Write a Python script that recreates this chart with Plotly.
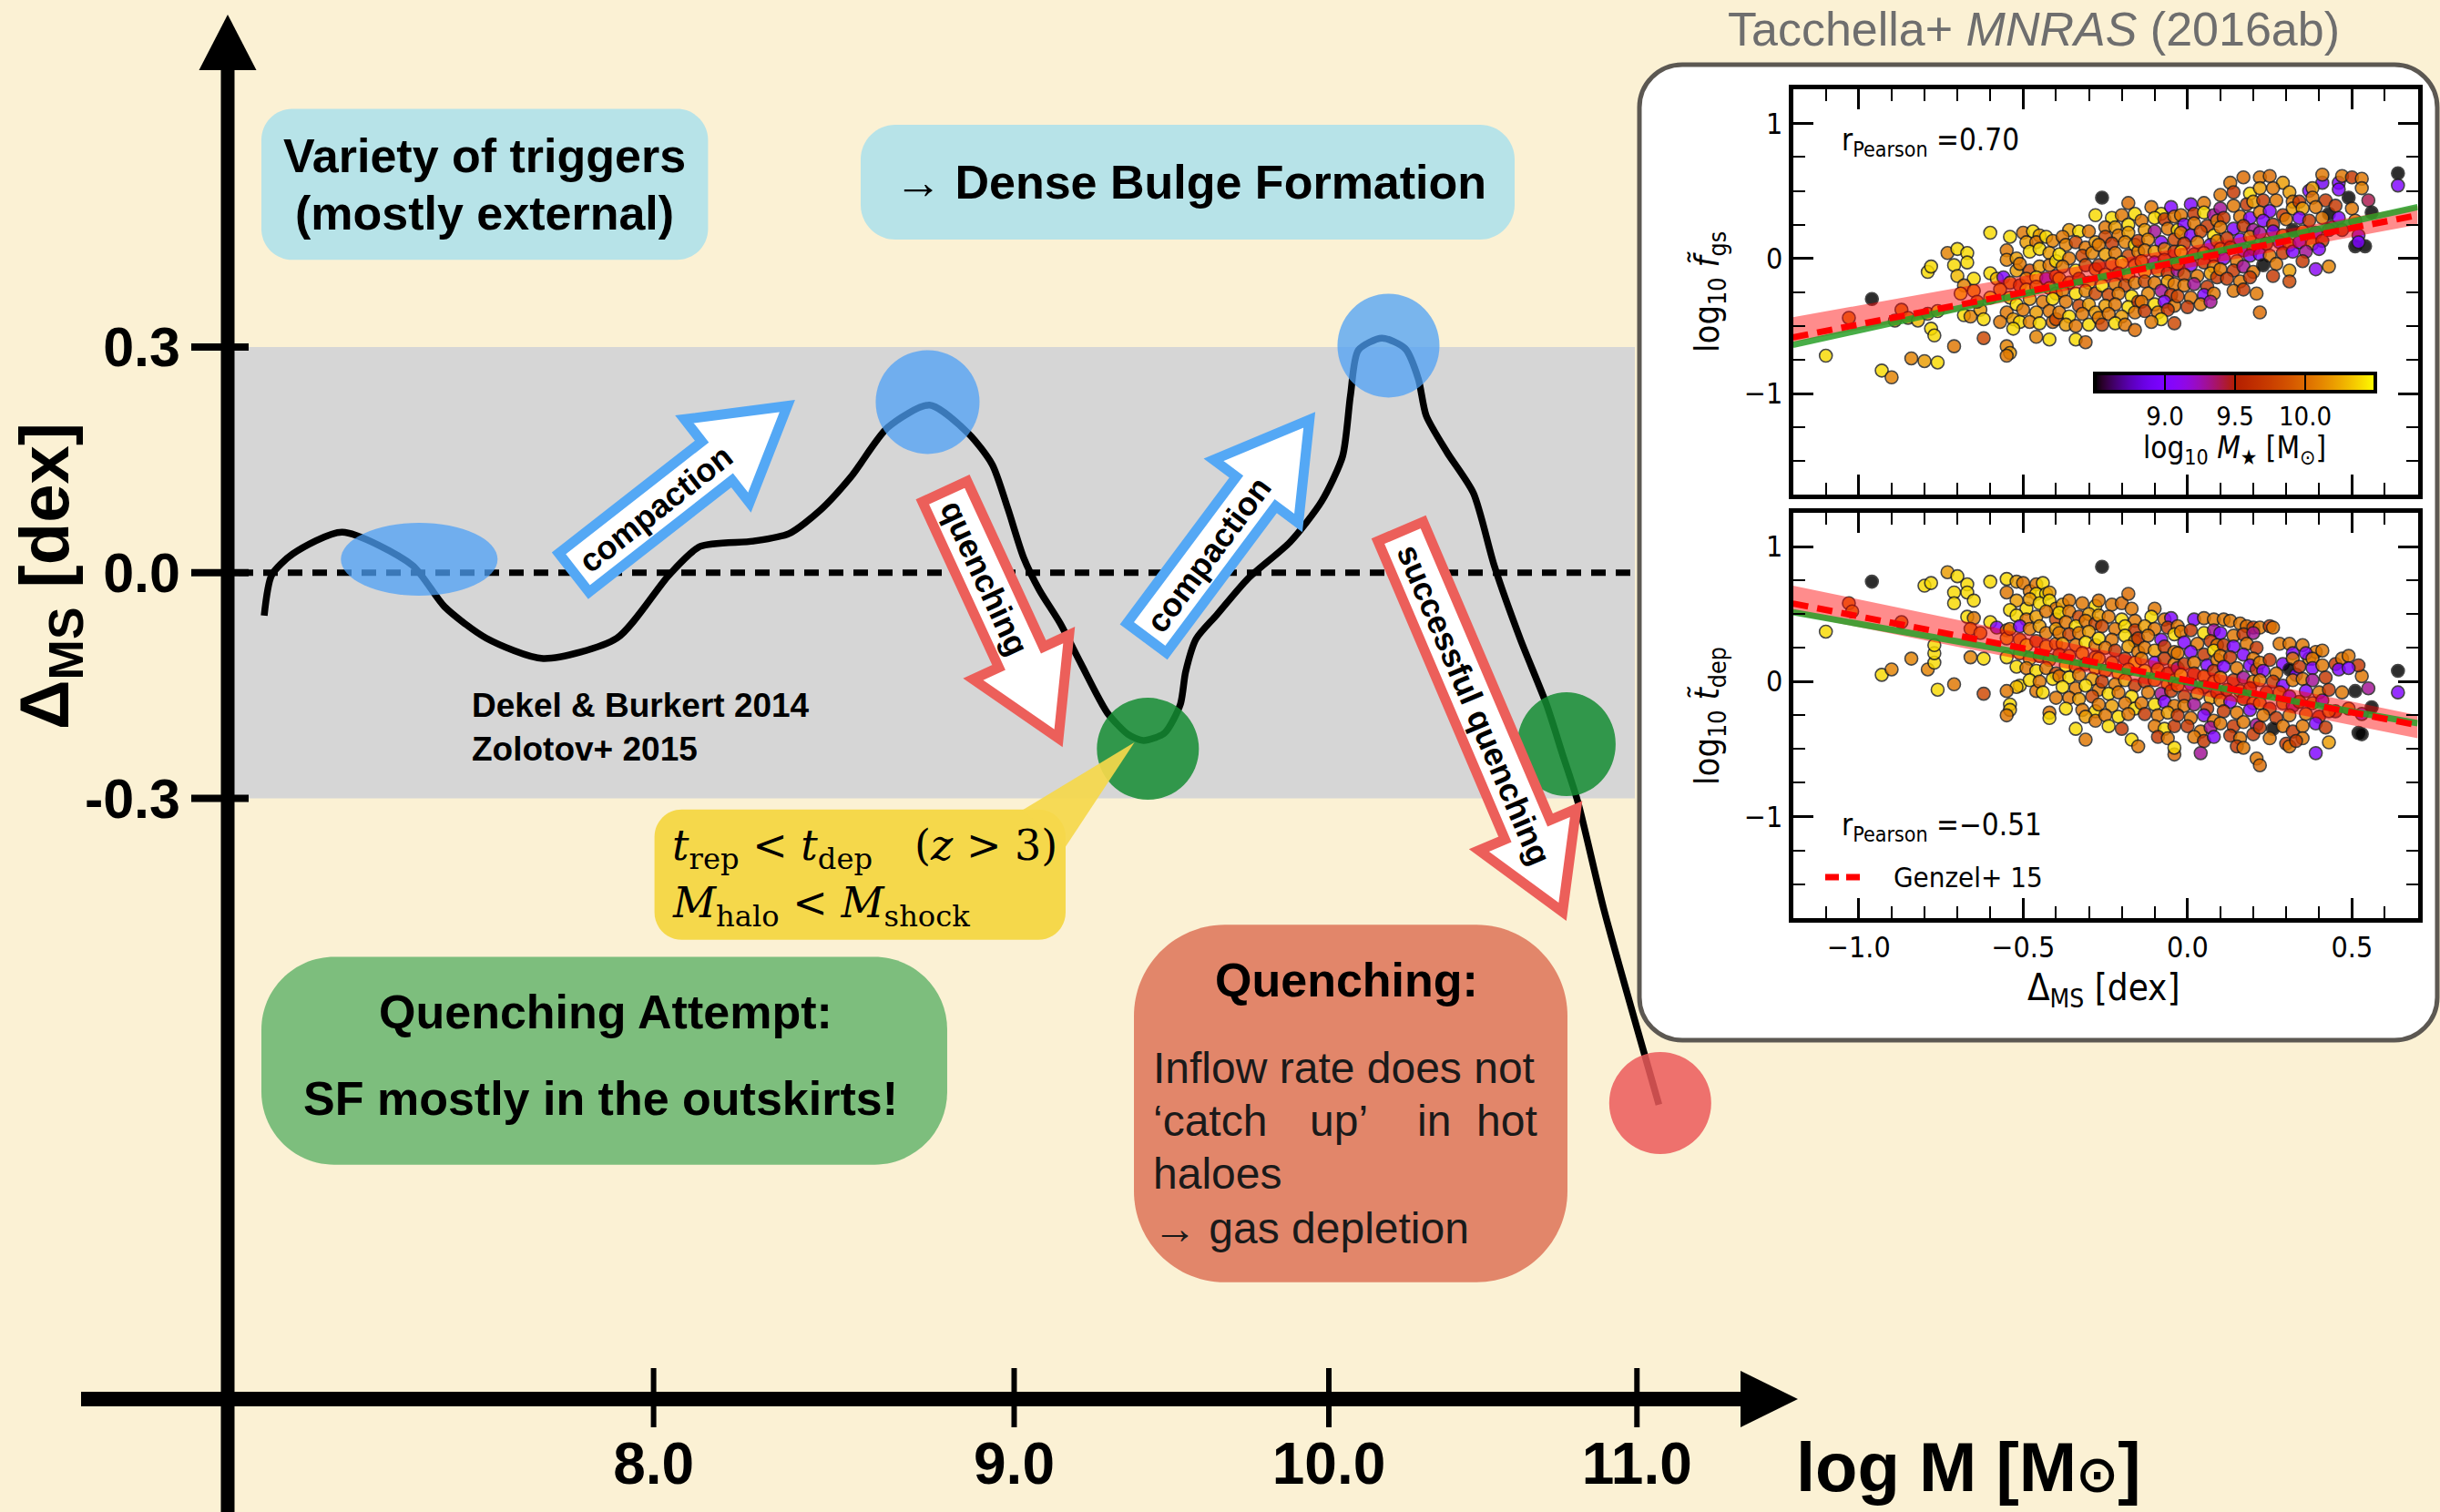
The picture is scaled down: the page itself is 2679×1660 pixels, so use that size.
import math
import plotly.graph_objects as go

W, H = 2679, 1660
BG = "#fbf1d4"
SANS = "Liberation Sans, Arial, Helvetica, sans-serif"
SERIF = "DejaVu Serif, Liberation Serif, serif"
MPL = "DejaVu Sans Condensed, DejaVu Sans, sans-serif"

# ---------------- main schematic: log M (x) vs Delta_MS (y) ----------------
X_RANGE = [6.006, 13.450]
Y_RANGE = [-1.2487, 0.7615]
x_tick_pos = [8.0, 9.10, 10.06, 11.0]
x_tick_text = ["8.0", "9.0", "10.0", "11.0"]
y_tick_vals = [0.3, 0.0, -0.3]
y_tick_text = ["0.3", "0.0", "-0.3"]
band_lo, band_hi = -0.3, 0.3

curve_logM = [6.812, 6.835, 6.899, 7.050, 7.264, 7.362, 7.490, 7.663, 7.888, 8.047, 8.142,
              8.304, 8.413, 8.508, 8.603, 8.714, 8.842, 8.961, 9.033, 9.081, 9.129, 9.177,
              9.240, 9.304, 9.384, 9.448, 9.495, 9.559, 9.607, 9.623, 9.655, 9.718, 9.815,
              9.942, 10.038, 10.102, 10.126, 10.150, 10.222, 10.293, 10.333, 10.357, 10.421,
              10.501, 10.565, 10.644, 10.724, 10.772, 10.820, 10.900, 11.067]
curve_dms = [-0.057, -0.003, 0.025, 0.054, 0.010, -0.045, -0.087, -0.114, -0.087, -0.003, 0.035,
             0.042, 0.052, 0.083, 0.128, 0.193, 0.223, 0.185, 0.144, 0.085, 0.020, -0.023,
             -0.067, -0.121, -0.186, -0.215, -0.223, -0.213, -0.175, -0.132, -0.088, -0.056, -0.007,
             0.041, 0.095, 0.155, 0.236, 0.296, 0.312, 0.298, 0.258, 0.209, 0.160,
             0.106, 0.009, -0.088, -0.175, -0.240, -0.305, -0.449, -0.707]

circ_logM = [7.285, 8.836, 10.242, 9.508, 10.785, 11.071]
circ_dms = [0.018, 0.227, 0.302, -0.234, -0.228, -0.705]
circ_rx_px = [86, 57, 56, 56, 54, 56]
circ_ry_px = [40, 57, 57, 56, 57, 56]
BLUE_C = "rgba(77,160,245,0.75)"
GREEN_C = "rgba(20,140,50,0.85)"
RED_C = "rgba(235,90,90,0.85)"
circ_fill = [BLUE_C, BLUE_C, BLUE_C, GREEN_C, GREEN_C, RED_C]

arrow_tail_logM = [7.745, 8.882, 9.495, 10.273]
arrow_tail_dms = [-0.004, 0.114, -0.092, 0.061]
arrow_tip_logM = [8.432, 9.248, 10.019, 10.785]
arrow_tip_dms = [0.230, -0.232, 0.214, -0.463]
arrow_labels = ["compaction", "quenching", "compaction", "successful quenching"]
arrow_edge = ["#54a8f5", "#ec5f5a", "#54a8f5", "#ec5f5a"]
arrow_text_frac = [0.38, 0.35, 0.38, 0.45]

# ---------------- inset: Tacchella+ scatter panels ----------------
p1_dms = [
    -1.10, -1.03, -0.96, -0.93, -0.90, -0.87, -0.84, -0.80, -0.76, -0.79, -0.78, -0.78, -0.77, -0.85, -0.82, -0.79, -0.76, -0.89,
    -0.73, -0.70, -0.67, -0.71, -0.67, -0.70, -0.65, -0.68, -0.65, -0.69, -0.71, -0.68, -0.66, -0.63, -0.62, -0.62, -0.64,
    -0.60, -0.54, -0.60, -0.58, -0.56, -0.55, -0.55, -0.52, -0.52, -0.54, -0.51, -0.57, -0.60, -0.54, -0.52, -0.55, -0.53, -0.51, -0.53, -0.55, -0.54, -0.55, -0.57,
    -0.50, -0.47, -0.45, -0.49, -0.46, -0.43, -0.41, -0.48, -0.45, -0.42, -0.51, -0.48, -0.45, -0.42, -0.40, -0.49, -0.46, -0.43, -0.40, -0.49, -0.46, -0.42, -0.40, -0.48, -0.44, -0.41, -0.50, -0.46, -0.42, -0.48, -0.45, -0.41, -0.46, -0.42, -0.40,
    -0.36, -0.38, -0.33, -0.30, -0.28, -0.37, -0.34, -0.31, -0.28, -0.39, -0.36, -0.32, -0.29, -0.38, -0.34, -0.31, -0.28, -0.39, -0.36, -0.33, -0.30, -0.38, -0.34, -0.31, -0.28, -0.37, -0.33, -0.30, -0.39, -0.36, -0.32, -0.28, -0.37, -0.34, -0.30, -0.27, -0.34, -0.31,
    -0.26, -0.23, -0.20, -0.18, -0.16, -0.25, -0.22, -0.18, -0.25, -0.21, -0.18, -0.27, -0.23, -0.19, -0.16, -0.25, -0.22, -0.18, -0.15, -0.27, -0.23, -0.20, -0.16, -0.25, -0.21, -0.18, -0.26, -0.22, -0.19, -0.16, -0.24, -0.21, -0.17, -0.25, -0.22, -0.18, -0.15, -0.24, -0.20, -0.16, -0.26, -0.22, -0.19, -0.16,
    -0.11, -0.08, -0.05, -0.14, -0.10, -0.07, -0.04, -0.13, -0.10, -0.06, -0.03, -0.15, -0.12, -0.08, -0.04, -0.13, -0.10, -0.07, -0.04, -0.14, -0.10, -0.07, -0.04, -0.13, -0.09, -0.06, -0.03, -0.13, -0.10, -0.06, -0.04, -0.12, -0.08, -0.05, -0.14, -0.10, -0.07, -0.04, -0.13, -0.09, -0.06, -0.04, -0.08, -0.11,
    0.01, 0.05, -0.02, 0.02, 0.05, 0.08, -0.01, 0.02, 0.06, 0.09, -0.02, 0.01, 0.04, 0.08, -0.01, 0.03, 0.07, 0.09, -0.02, 0.02, 0.05, 0.08, -0.03, 0.01, 0.05, 0.08, -0.01, 0.03, 0.07, 0.09, -0.01, 0.02, 0.06, -0.03, 0.01, 0.05, 0.08, 0.00, 0.04, 0.07,
    0.13, 0.17, 0.10, 0.14, 0.19, 0.10, 0.14, 0.18, 0.20, 0.11, 0.16, 0.19, 0.10, 0.14, 0.17, 0.20, 0.12, 0.16, 0.19, 0.10, 0.13, 0.17, 0.20, 0.11, 0.15, 0.19, 0.10, 0.14, 0.17, 0.20, 0.12, 0.16, 0.19, 0.14, 0.17, 0.21,
    0.22, 0.25, 0.29, 0.22, 0.26, 0.31, 0.23, 0.27, 0.32, 0.22, 0.25, 0.29, 0.32, 0.23, 0.26, 0.30, 0.22, 0.26, 0.29, 0.32, 0.24, 0.28, 0.31, 0.22, 0.25, 0.29, 0.32, 0.23, 0.27, 0.31, 0.22, 0.31, 0.26,
    0.37, 0.41, 0.41, 0.38, 0.34, 0.38, 0.42, 0.35, 0.39, 0.43, 0.34, 0.37, 0.41, 0.44, 0.35, 0.39, 0.43, 0.34, 0.38, 0.41, 0.36, 0.40, 0.39, 0.43, 0.35,
    0.46, 0.47, 0.50, 0.53, 0.53, 0.46, 0.49, 0.55, 0.45, 0.50, 0.56, 0.46, 0.51, 0.52, 0.51, 0.54, 0.52, 0.47, 0.64, 0.64,
]
p1_fgs = [
    -0.72, -0.44, -0.30, -0.83, -0.88, -0.38, -0.74, -0.76, -0.77, -0.10, -0.06, -0.52, -0.57, -0.44, -0.46, -0.41, -0.39, -0.46,
    0.04, 0.07, 0.04, -0.05, -0.03, -0.13, -0.15, -0.20, -0.24, -0.26, -0.65, -0.42, -0.43, -0.38, -0.45, -0.59, -0.32,
    0.19, 0.16, -0.11, -0.15, -0.14, 0.06, -0.01, 0.00, -0.09, -0.18, -0.20, -0.23, -0.29, -0.29, -0.34, -0.40, -0.45, -0.47, -0.52, -0.65, -0.70, -0.72, -0.47,
    0.19, 0.20, 0.17, 0.12, 0.12, 0.16, 0.13, 0.05, 0.07, 0.04, -0.04, -0.09, -0.06, -0.05, -0.02, -0.15, -0.14, -0.15, -0.13, -0.23, -0.21, -0.22, -0.26, -0.30, -0.32, -0.30, -0.38, -0.40, -0.39, -0.47, -0.48, -0.47, -0.58, -0.60, -0.45,
    0.21, 0.16, 0.20, 0.20, 0.32, 0.10, 0.12, 0.08, 0.12, 0.03, 0.00, 0.02, 0.04, -0.06, -0.09, -0.05, -0.08, -0.15, -0.18, -0.15, -0.18, -0.24, -0.26, -0.24, -0.26, -0.32, -0.35, -0.34, -0.40, -0.43, -0.41, -0.40, -0.49, -0.50, -0.49, -0.44, -0.60, -0.62,
    0.45, 0.30, 0.32, 0.41, 0.33, 0.23, 0.23, 0.25, 0.16, 0.17, 0.19, 0.10, 0.11, 0.12, 0.10, 0.03, 0.04, 0.02, 0.05, -0.05, -0.04, -0.03, -0.05, -0.12, -0.11, -0.13, -0.20, -0.19, -0.20, -0.18, -0.27, -0.26, -0.28, -0.35, -0.34, -0.36, -0.32, -0.41, -0.43, -0.40, -0.49, -0.48, -0.49, -0.53,
    0.38, 0.33, 0.38, 0.28, 0.30, 0.29, 0.31, 0.21, 0.20, 0.22, 0.21, 0.13, 0.14, 0.12, 0.14, 0.06, 0.05, 0.07, 0.05, -0.02, -0.03, -0.01, -0.04, -0.10, -0.09, -0.11, -0.09, -0.17, -0.18, -0.17, -0.19, -0.26, -0.24, -0.27, -0.32, -0.34, -0.32, -0.35, -0.39, -0.40, -0.38, -0.48, -0.45, -0.47,
    0.40, 0.41, 0.32, 0.33, 0.34, 0.32, 0.25, 0.26, 0.24, 0.28, 0.19, 0.17, 0.20, 0.17, 0.11, 0.12, 0.10, 0.13, 0.05, 0.03, 0.04, 0.02, -0.04, -0.05, -0.03, -0.06, -0.12, -0.13, -0.11, -0.14, -0.20, -0.19, -0.21, -0.28, -0.29, -0.27, -0.26, -0.36, -0.34, -0.32,
    0.56, 0.60, 0.47, 0.49, 0.48, 0.37, 0.39, 0.40, 0.42, 0.30, 0.31, 0.30, 0.23, 0.22, 0.24, 0.21, 0.15, 0.14, 0.16, 0.07, 0.08, 0.06, 0.07, 0.00, -0.02, 0.02, -0.08, -0.09, -0.06, -0.10, -0.15, -0.17, -0.14, -0.24, -0.23, -0.26,
    0.60, 0.61, 0.56, 0.52, 0.52, 0.49, 0.43, 0.43, 0.42, 0.34, 0.35, 0.32, 0.37, 0.28, 0.25, 0.29, 0.19, 0.20, 0.17, 0.21, 0.11, 0.12, 0.10, 0.03, 0.02, 0.04, 0.05, -0.05, -0.04, -0.09, -0.40, -0.17, -0.13,
    0.50, 0.56, 0.62, 0.52, 0.42, 0.45, 0.43, 0.37, 0.38, 0.33, 0.30, 0.28, 0.30, 0.23, 0.20, 0.19, 0.21, 0.12, 0.11, 0.13, 0.05, 0.07, -0.08, -0.06, -0.02,
    0.56, 0.61, 0.60, 0.59, 0.52, 0.51, 0.45, 0.43, 0.39, 0.37, 0.34, 0.30, 0.28, 0.17, 0.09, 0.09, 0.12, 0.21, 0.63, 0.54,
]
p1_mass = [
    10.4, 10.05, 8.4, 10.4, 10.1, 10.05, 10.1, 10.2, 10.4, 10.4, 10.4, 10.4, 10.4, 10.1, 10.3, 10.1, 10.4, 10.1,
    10.1, 10.4, 10.4, 10.4, 10.4, 10.3, 10.4, 10.1, 10.2, 10.4, 10.05, 10.4, 10.1, 10.2, 10.4, 9.8, 10.05,
    10.4, 10.4, 10.4, 10.3, 9.0, 10.05, 10.1, 10.2, 10.2, 10.05, 9.8, 10.1, 10.4, 10.4, 10.4, 10.05, 10.2, 10.4, 10.4, 10.1, 10.2, 10.05, 10.05,
    10.05, 10.4, 10.2, 10.2, 10.05, 10.4, 10.1, 10.4, 10.4, 10.2, 10.05, 9.8, 10.2, 10.05, 10.4, 10.05, 10.4, 9.0, 9.8, 10.4, 10.1, 10.2, 10.05, 10.2, 10.05, 10.4, 10.05, 10.2, 10.05, 10.1, 10.4, 10.0, 10.1, 10.4, 9.8,
    10.2, 10.05, 10.4, 10.05, 10.4, 10.1, 9.8, 10.05, 10.2, 10.4, 10.05, 9.8, 10.1, 10.05, 10.4, 9.8, 10.05, 10.2, 10.05, 9.7, 10.4, 10.05, 10.4, 10.1, 9.8, 10.05, 9.8, 10.2, 10.05, 10.4, 10.05, 10.2, 10.2, 10.05, 10.4, 10.05, 10.4, 10.0,
    8.4, 10.4, 10.05, 10.0, 10.4, 10.05, 10.2, 10.4, 9.8, 10.05, 10.2, 10.05, 9.7, 10.1, 10.4, 10.2, 10.05, 9.8, 10.05, 9.7, 10.05, 10.4, 10.05, 10.1, 9.7, 10.2, 10.4, 10.05, 9.8, 10.05, 9.8, 10.05, 10.4, 10.2, 10.05, 10.4, 9.7, 10.05, 10.2, 10.05, 9.8, 10.4, 10.05, 10.0,
    10.05, 10.4, 9.0, 10.05, 10.4, 9.7, 10.05, 10.2, 9.3, 10.05, 10.4, 9.7, 10.1, 9.0, 9.8, 10.05, 10.2, 10.05, 9.7, 10.05, 9.0, 9.8, 10.05, 10.4, 10.05, 9.7, 9.3, 9.8, 10.05, 10.2, 10.05, 10.1, 9.3, 9.7, 10.05, 10.4, 9.0, 10.05, 9.7, 10.05, 9.7, 9.8, 10.4, 10.05,
    9.0, 10.05, 10.05, 9.7, 10.4, 9.3, 9.0, 10.05, 9.7, 10.05, 10.05, 9.0, 9.8, 10.4, 9.7, 10.05, 9.0, 10.05, 10.4, 9.7, 10.05, 9.8, 10.05, 9.0, 9.7, 10.05, 9.8, 10.05, 10.2, 9.7, 10.05, 9.3, 9.7, 9.8, 10.05, 9.0, 10.05, 9.7, 10.05, 9.3,
    10.05, 10.0, 10.05, 9.7, 10.4, 9.3, 10.05, 9.7, 10.2, 9.7, 10.05, 9.0, 10.05, 9.0, 9.7, 9.3, 9.7, 9.0, 10.05, 10.05, 9.7, 9.0, 9.8, 9.0, 10.05, 8.9, 10.05, 9.7, 9.3, 10.05, 9.7, 10.05, 9.7, 10.05, 9.7, 10.05,
    10.05, 10.0, 10.2, 10.2, 10.05, 10.2, 9.7, 10.05, 10.05, 10.05, 9.0, 9.7, 10.2, 9.0, 9.7, 10.05, 9.3, 8.9, 10.05, 8.4, 9.7, 9.0, 10.05, 9.0, 10.05, 9.7, 9.0, 8.4, 10.05, 10.2, 10.0, 9.8, 9.7,
    9.0, 8.9, 10.05, 10.2, 9.7, 10.05, 9.7, 10.2, 10.05, 8.4, 9.0, 9.7, 10.05, 9.3, 10.05, 9.0, 9.7, 9.0, 10.05, 9.7, 9.3, 9.0, 9.1, 10.1, 9.7,
    9.0, 10.05, 9.7, 10.05, 10.1, 9.0, 8.4, 9.4, 9.7, 10.05, 8.4, 9.0, 10.05, 9.0, 8.4, 8.4, 9.0, 9.7, 8.4, 9.0,
]

p2_dms = [
    -1.10, -1.03, -1.02, -0.96, -0.93, -0.90, -0.87, -0.84, -0.79, -0.80, -0.78, -0.77, -0.77, -0.77, -0.76, -0.71, -0.73, -0.70, -0.67, -0.71, -0.71, -0.67, -0.65, -0.67, -0.65, -0.66, -0.63, -0.66, -0.62, -0.62, -0.60, -0.60, -0.58, -0.55, -0.55, -0.55, -0.52, -0.51, -0.52, -0.55, -0.54, -0.54, -0.55, -0.46, -0.42, -0.42, -0.34, -0.31, -0.26, -0.17, -0.15, -0.04, 0.04, 0.21, 0.22, 0.39, 0.43, 0.64, 0.64, 0.52, 0.53, 0.55, 0.53, 0.56,
    -0.55, -0.52, -0.50, -0.48, -0.46, -0.44, -0.46, -0.43, -0.42, -0.55, -0.52, -0.49, -0.48, -0.45, -0.42, -0.40, -0.54, -0.52, -0.49, -0.46, -0.43, -0.40, -0.54, -0.51, -0.48, -0.45, -0.43, -0.40, -0.51, -0.49, -0.46, -0.43, -0.40, -0.51, -0.48, -0.45, -0.42, -0.49, -0.46, -0.43, -0.40, -0.48, -0.45, -0.41, -0.44, -0.40,
    -0.38, -0.36, -0.32, -0.28, -0.27, -0.39, -0.36, -0.33, -0.30, -0.37, -0.34, -0.31, -0.28, -0.39, -0.36, -0.33, -0.30, -0.38, -0.34, -0.31, -0.28, -0.39, -0.36, -0.32, -0.28, -0.37, -0.34, -0.31, -0.28, -0.39, -0.36, -0.33, -0.29, -0.38, -0.34, -0.31, -0.27, -0.36, -0.33, -0.29, -0.37, -0.32, -0.28, -0.31, -0.28,
    -0.23, -0.20, -0.18, -0.17, -0.27, -0.24, -0.20, -0.16, -0.26, -0.22, -0.19, -0.16, -0.27, -0.23, -0.19, -0.16, -0.25, -0.22, -0.18, -0.15, -0.27, -0.23, -0.19, -0.16, -0.25, -0.21, -0.18, -0.26, -0.22, -0.19, -0.16, -0.24, -0.21, -0.17, -0.27, -0.23, -0.19, -0.16, -0.25, -0.21, -0.18, -0.24, -0.20,
    -0.10, -0.11, -0.07, -0.05, -0.13, -0.10, -0.06, -0.03, -0.15, -0.12, -0.08, -0.04, -0.13, -0.10, -0.07, -0.04, -0.14, -0.10, -0.07, -0.04, -0.13, -0.09, -0.06, -0.03, -0.13, -0.10, -0.06, -0.04, -0.12, -0.08, -0.05, -0.14, -0.10, -0.07, -0.04, -0.13, -0.09, -0.06, -0.10, -0.07, -0.04, -0.09, -0.06, -0.04,
    0.02, 0.05, 0.08, -0.02, 0.01, 0.05, 0.08, -0.01, 0.03, 0.07, 0.09, -0.03, 0.01, 0.05, 0.08, -0.01, 0.02, 0.06, 0.09, -0.02, 0.02, 0.05, 0.08, -0.03, 0.01, 0.05, 0.08, -0.01, 0.03, 0.07, 0.09, -0.01, 0.02, 0.06, -0.03, 0.01, 0.05, 0.08, 0.00, 0.04, 0.07, 0.02, 0.05, 0.08,
    0.11, 0.13, 0.16, 0.18, 0.20, 0.22, 0.25, 0.26, 0.10, 0.14, 0.17, 0.20, 0.11, 0.14, 0.18, 0.21, 0.10, 0.13, 0.17, 0.20, 0.11, 0.15, 0.19, 0.21, 0.10, 0.14, 0.17, 0.20, 0.12, 0.16, 0.19, 0.10, 0.13, 0.17, 0.20, 0.11, 0.15, 0.19, 0.10, 0.14, 0.17, 0.21, 0.13, 0.16, 0.20, 0.15, 0.17,
    0.28, 0.31, 0.32, 0.35, 0.37, 0.39, 0.22, 0.25, 0.29, 0.32, 0.23, 0.27, 0.31, 0.33, 0.22, 0.26, 0.29, 0.32, 0.24, 0.28, 0.31, 0.22, 0.25, 0.29, 0.32, 0.23, 0.27, 0.31, 0.22, 0.26, 0.29, 0.32, 0.25, 0.30, 0.31,
    0.36, 0.38, 0.41, 0.34, 0.38, 0.41, 0.45, 0.47, 0.49, 0.52, 0.35, 0.38, 0.42, 0.46, 0.49, 0.36, 0.40, 0.43, 0.47, 0.51, 0.34, 0.38, 0.41, 0.45, 0.49, 0.53, 0.36, 0.40, 0.43, 0.35, 0.39, 0.42, 0.35, 0.33,
]
p2_tdep = [
    0.37, 0.58, 0.52, 0.74, 0.05, 0.09, 0.44, 0.17, 0.09, 0.71, 0.73, 0.14, 0.21, 0.27, -0.06, -0.02, 0.81, 0.78, 0.72, 0.66, 0.58, 0.66, 0.60, 0.48, 0.47, 0.39, 0.36, 0.18, 0.17, -0.09, 0.74, 0.44, 0.40, 0.38, 0.32, 0.18, 0.11, -0.03, -0.04, -0.07, -0.17, -0.21, -0.25, -0.07, -0.23, -0.27, -0.35, -0.43, 0.85, -0.43, -0.48, -0.54, -0.53, -0.57, -0.62, -0.53, -0.45, 0.08, -0.08, -0.38, -0.39, -0.05, 0.04, -0.19,
    0.76, 0.74, 0.73, 0.67, 0.72, 0.73, 0.65, 0.65, 0.66, 0.66, 0.60, 0.54, 0.61, 0.58, 0.60, 0.54, 0.53, 0.49, 0.46, 0.48, 0.52, 0.46, 0.39, 0.41, 0.39, 0.41, 0.36, 0.39, 0.31, 0.27, 0.30, 0.26, 0.28, 0.21, 0.17, 0.19, 0.16, 0.10, 0.08, 0.10, 0.06, 0.01, 0.00, 0.02, -0.08, -0.12,
    0.57, 0.60, 0.58, 0.56, 0.60, 0.51, 0.52, 0.48, 0.50, 0.44, 0.41, 0.45, 0.43, 0.36, 0.35, 0.36, 0.37, 0.28, 0.27, 0.29, 0.27, 0.20, 0.19, 0.21, 0.18, 0.12, 0.11, 0.13, 0.10, 0.04, 0.03, 0.05, 0.02, -0.04, -0.05, -0.03, -0.06, -0.12, -0.13, -0.11, -0.20, -0.21, -0.22, -0.26, -0.29,
    0.57, 0.58, 0.65, 0.54, 0.49, 0.48, 0.46, 0.45, 0.41, 0.39, 0.41, 0.38, 0.32, 0.31, 0.34, 0.30, 0.25, 0.23, 0.26, 0.22, 0.17, 0.14, 0.17, 0.14, 0.08, 0.06, 0.09, 0.00, -0.02, 0.01, -0.03, -0.09, -0.08, -0.11, -0.17, -0.18, -0.16, -0.20, -0.25, -0.26, -0.24, -0.33, -0.35,
    0.54, 0.48, 0.46, 0.47, 0.41, 0.39, 0.40, 0.41, 0.32, 0.34, 0.31, 0.35, 0.25, 0.23, 0.26, 0.22, 0.17, 0.14, 0.17, 0.13, 0.08, 0.09, 0.06, 0.10, 0.00, 0.01, -0.02, 0.01, -0.08, -0.09, -0.07, -0.16, -0.17, -0.15, -0.18, -0.24, -0.25, -0.23, -0.33, -0.35, -0.33, -0.41, -0.42, -0.49,
    0.46, 0.47, 0.46, 0.37, 0.38, 0.36, 0.38, 0.29, 0.28, 0.30, 0.27, 0.21, 0.22, 0.20, 0.23, 0.13, 0.14, 0.12, 0.16, 0.05, 0.06, 0.04, 0.08, -0.03, -0.02, -0.04, 0.00, -0.11, -0.09, -0.12, -0.08, -0.18, -0.17, -0.20, -0.25, -0.27, -0.25, -0.29, -0.33, -0.37, -0.34, -0.41, -0.44, -0.41,
    0.46, 0.45, 0.43, 0.41, 0.40, 0.40, 0.41, 0.40, 0.36, 0.34, 0.35, 0.36, 0.27, 0.26, 0.28, 0.25, 0.19, 0.18, 0.20, 0.17, 0.11, 0.10, 0.12, 0.09, 0.03, 0.01, 0.03, 0.00, -0.06, -0.07, -0.05, -0.14, -0.15, -0.13, -0.16, -0.22, -0.23, -0.21, -0.31, -0.33, -0.30, -0.32, -0.40, -0.42, -0.39, -0.48, -0.49,
    0.28, 0.28, 0.21, 0.27, 0.17, 0.22, 0.14, 0.16, 0.13, 0.17, 0.08, 0.06, 0.09, 0.05, 0.01, 0.00, -0.03, 0.01, -0.08, -0.08, -0.11, -0.16, -0.20, -0.16, -0.18, -0.25, -0.27, -0.25, -0.34, -0.35, -0.33, -0.37, -0.42, -0.46, -0.48,
    0.21, 0.17, 0.23, 0.11, 0.10, 0.12, 0.13, 0.17, 0.19, 0.12, 0.02, 0.01, 0.03, 0.09, 0.10, -0.07, -0.08, -0.06, -0.08, -0.07, -0.15, -0.16, -0.14, -0.22, -0.20, -0.24, -0.24, -0.26, -0.22, -0.33, -0.31, -0.34, -0.42, -0.44,
]
p2_mass = [
    10.4, 10.05, 10.1, 8.4, 10.4, 10.1, 10.05, 10.1, 10.1, 10.4, 10.4, 10.4, 10.4, 10.4, 10.4, 10.05, 10.2, 10.4, 10.4, 10.4, 10.4, 10.4, 10.4, 10.4, 10.05, 10.1, 10.05, 10.1, 10.4, 9.8, 10.4, 10.4, 9.0, 10.05, 10.2, 10.4, 10.4, 10.4, 10.3, 10.05, 10.4, 10.3, 10.05, 10.05, 10.05, 10.4, 10.4, 10.05, 8.4, 10.4, 10.05, 10.0, 9.3, 10.05, 10.0, 9.0, 10.2, 8.4, 9.0, 8.4, 8.5, 9.3, 10.05, 8.4,
    10.4, 10.2, 10.05, 10.05, 10.05, 10.4, 10.4, 10.4, 10.2, 10.05, 10.2, 10.4, 10.2, 10.4, 10.4, 10.05, 10.4, 10.4, 10.05, 10.2, 10.05, 9.8, 10.05, 9.0, 10.05, 10.2, 10.05, 10.2, 10.05, 10.4, 9.8, 10.2, 10.05, 10.4, 10.2, 10.05, 10.2, 10.05, 10.4, 10.05, 9.8, 10.4, 10.05, 10.4, 10.4, 10.05,
    10.2, 10.05, 10.05, 10.4, 10.05, 10.4, 10.05, 9.8, 10.2, 10.05, 10.4, 10.05, 9.8, 10.05, 9.8, 10.05, 10.2, 10.2, 10.05, 10.4, 10.05, 9.8, 10.05, 10.2, 10.05, 10.4, 10.05, 9.8, 10.4, 10.05, 10.4, 10.05, 10.2, 10.4, 10.05, 10.4, 10.05, 10.05, 10.2, 9.8, 10.4, 10.05, 10.4, 10.2, 10.05,
    10.05, 10.0, 10.0, 10.05, 10.2, 10.05, 10.4, 10.05, 9.8, 10.05, 10.4, 9.7, 10.4, 10.05, 10.4, 10.05, 10.05, 9.7, 10.2, 10.05, 10.2, 10.05, 9.7, 10.4, 10.05, 10.4, 10.05, 9.7, 10.05, 10.2, 9.7, 10.4, 10.05, 10.4, 10.05, 10.2, 10.05, 10.4, 10.05, 10.4, 10.05, 10.4, 9.7,
    10.05, 10.4, 10.05, 9.0, 10.2, 10.05, 9.7, 10.05, 9.7, 10.05, 9.0, 10.4, 10.05, 10.2, 9.7, 10.05, 10.05, 9.0, 9.7, 10.05, 10.4, 10.05, 9.7, 9.3, 9.7, 10.05, 10.2, 10.05, 10.05, 9.3, 9.7, 10.05, 10.4, 9.0, 10.05, 9.7, 10.05, 10.2, 10.05, 10.4, 9.7, 9.7, 10.05, 10.4,
    9.0, 10.05, 10.05, 10.05, 9.7, 10.4, 9.3, 9.0, 10.05, 9.7, 10.05, 10.05, 9.0, 9.7, 10.4, 9.7, 10.05, 9.0, 10.05, 10.4, 9.7, 10.05, 9.7, 10.05, 9.0, 9.7, 10.05, 9.7, 10.05, 10.2, 9.7, 10.05, 9.3, 9.7, 9.7, 10.05, 9.0, 10.05, 9.7, 10.05, 9.3, 10.05, 9.7, 9.0,
    10.05, 10.05, 10.05, 10.0, 9.7, 10.05, 9.7, 10.05, 9.0, 10.05, 9.7, 9.3, 9.7, 9.0, 10.05, 9.7, 10.05, 9.7, 9.0, 10.05, 9.0, 10.05, 9.0, 9.7, 10.05, 9.7, 9.3, 10.05, 9.7, 10.05, 9.7, 10.05, 9.0, 9.7, 10.05, 9.7, 10.05, 9.0, 10.05, 9.7, 10.05, 9.3, 9.7, 10.05, 9.7, 9.7, 10.05,
    10.05, 10.05, 9.0, 10.05, 10.2, 10.05, 10.05, 9.7, 9.0, 10.05, 9.0, 10.05, 8.4, 9.0, 10.05, 9.7, 9.0, 10.05, 9.7, 10.05, 9.0, 10.05, 9.7, 10.05, 9.3, 10.05, 9.7, 10.05, 9.7, 8.4, 10.05, 9.7, 10.05, 9.7, 10.05,
    9.0, 10.05, 10.05, 9.7, 9.0, 10.05, 9.7, 10.05, 10.05, 9.7, 10.05, 9.3, 9.7, 9.0, 9.0, 9.0, 10.05, 9.7, 10.05, 8.5, 9.7, 10.05, 9.0, 9.7, 10.05, 9.1, 10.05, 9.7, 10.05, 10.05, 9.0, 9.7, 10.05, 9.7,
]

fit_x = [-1.2, 0.7]
fit1_green = [-0.64, 0.38]
fit1_genzel = [-0.584, 0.32]
fit1_band_lo = [-0.62, 0.25]
fit1_band_hi = [-0.435, 0.39]
fit2_green = [0.514, -0.308]
fit2_genzel = [0.578, -0.323]
fit2_band_lo = [0.50, -0.42]
fit2_band_hi = [0.71, -0.25]

mass_ticks = [9.0, 9.5, 10.0]
mass_range = [8.5, 10.5]


# ---------------- helpers ----------------
def xpx(X):
    return (X - X_RANGE[0]) / (X_RANGE[1] - X_RANGE[0]) * W


def ypx(Y):
    return (Y_RANGE[1] - Y) / (Y_RANGE[1] - Y_RANGE[0]) * H


def xdat(p):
    return X_RANGE[0] + p / W * (X_RANGE[1] - X_RANGE[0])


def ydat(p):
    return Y_RANGE[1] - p / H * (Y_RANGE[1] - Y_RANGE[0])


def pap(px, py):
    return px / W, 1 - py / H


def P(x, y):
    a, b = pap(x, y)
    return f"{a:.5f},{b:.5f}"


def rrect(x0, y0, x1, y1, r):
    k = 0.5523 * r
    return (f"M{P(x0 + r, y0)} L{P(x1 - r, y0)} C{P(x1 - r + k, y0)} {P(x1, y0 + r - k)} {P(x1, y0 + r)} "
            f"L{P(x1, y1 - r)} C{P(x1, y1 - r + k)} {P(x1 - r + k, y1)} {P(x1 - r, y1)} "
            f"L{P(x0 + r, y1)} C{P(x0 + r - k, y1)} {P(x0, y1 - r + k)} {P(x0, y1 - r)} "
            f"L{P(x0, y0 + r)} C{P(x0, y0 + r - k)} {P(x0 + r - k, y0)} {P(x0 + r, y0)} Z")


def gnuplot(t):
    r = math.sqrt(t)
    g = t ** 3
    b = max(0.0, math.sin(2 * math.pi * t))
    return f"rgb({int(255 * r)},{int(255 * g)},{int(255 * b)})"


GNUPLOT = [[i / 40, gnuplot(i / 40)] for i in range(41)]

shapes = []
annotations = []


def note(text, px, py, size, family=SANS, color="black", xanchor="center", yanchor="middle", angle=0):
    x, y = pap(px, py)
    annotations.append(dict(text=text, x=x, y=y, xref="paper", yref="paper", showarrow=False,
                            xanchor=xanchor, yanchor=yanchor, textangle=angle,
                            font=dict(family=family, size=size, color=color)))


# ---------------- background shapes (below) ----------------
axis_x = xdat(250)
band_right = xdat(1795)
shapes.append(dict(type="rect", xref="x", yref="y", x0=axis_x, x1=band_right, y0=band_lo, y1=band_hi,
                   fillcolor="#d6d6d6", line=dict(width=0), layer="below"))
shapes.append(dict(type="line", xref="x", yref="y", x0=xdat(262), x1=band_right, y0=0, y1=0,
                   line=dict(color="black", width=7, dash="16px,11px"), layer="below"))

boxes = [
    (287, 119.6, 777.4, 285.3, 34, "#b7e3e8"),
    (945, 137, 1663, 263, 38, "#b7e3e8"),
    (718.6, 888.7, 1170, 1031.8, 30, "#f5d84b"),
    (287, 1050.4, 1040, 1278.7, 80, "#7dbe7d"),
    (1245, 1015.3, 1721, 1407.8, 100, "#e2866a"),
]
for (x0, y0, x1, y1, r, c) in boxes:
    shapes.append(dict(type="path", xref="paper", yref="paper", path=rrect(x0, y0, x1, y1, r),
                       fillcolor=c, line=dict(width=0), layer="below"))

# inset white card
shapes.append(dict(type="path", xref="paper", yref="paper", path=rrect(1800, 71, 2676, 1142, 47),
                   fillcolor="white", line=dict(color="#5c5852", width=5), layer="below"))

# ---------------- circles (above the curve) ----------------
for cx, cy, rx, ry, col in zip(circ_logM, circ_dms, circ_rx_px, circ_ry_px, circ_fill):
    px0, py0 = xpx(cx), ypx(cy)
    shapes.append(dict(type="circle", xref="x", yref="y",
                       x0=xdat(px0 - rx), x1=xdat(px0 + rx), y0=ydat(py0 + ry), y1=ydat(py0 - ry),
                       fillcolor=col, line=dict(width=0), layer="above"))

# callout pointer of the yellow box
shapes.append(dict(type="path", xref="paper", yref="paper",
                   path=f"M{P(1122.5, 889.5)} L{P(1245.6, 815)} L{P(1169, 931)} Z",
                   fillcolor="rgba(245,216,75,0.92)", line=dict(width=0), layer="above"))

# ---------------- block arrows ----------------
for tX, tY, pX, pY, lab, col, fr in zip(arrow_tail_logM, arrow_tail_dms, arrow_tip_logM, arrow_tip_dms,
                                        arrow_labels, arrow_edge, arrow_text_frac):
    x0, y0 = xpx(tX), ypx(tY)
    x1, y1 = xpx(pX), ypx(pY)
    L = math.hypot(x1 - x0, y1 - y0)
    ux, uy = (x1 - x0) / L, (y1 - y0) / L
    nx, ny = -uy, ux
    hw_s, hw_h, hl, t_in, p_in = 27, 58, 98, 5.5, 11
    ax_, ay_ = x0 + ux * t_in, y0 + uy * t_in
    bx, by = x1 - ux * p_in, y1 - uy * p_in
    cx, cy = bx - ux * hl, by - uy * hl
    pts = [(ax_ + nx * hw_s, ay_ + ny * hw_s), (cx + nx * hw_s, cy + ny * hw_s), (cx + nx * hw_h, cy + ny * hw_h),
           (bx, by), (cx - nx * hw_h, cy - ny * hw_h), (cx - nx * hw_s, cy - ny * hw_s),
           (ax_ - nx * hw_s, ay_ - ny * hw_s)]
    path = "M" + " L".join(f"{xdat(a):.5f},{ydat(b):.5f}" for a, b in pts) + " Z"
    shapes.append(dict(type="path", xref="x", yref="y", path=path, fillcolor="white",
                       line=dict(color=col, width=11), layer="above"))
    ang = math.degrees(math.atan2(y1 - y0, x1 - x0))
    tx, ty = x0 + (x1 - x0) * fr, y0 + (y1 - y0) * fr
    annotations.append(dict(text=f"<b>{lab}</b>", x=xdat(tx), y=ydat(ty), xref="x", yref="y",
                            showarrow=False, textangle=ang, xanchor="center", yanchor="middle",
                            font=dict(family=SANS, size=36, color="black")))

# ---------------- schematic axes (arrows + ticks) ----------------
x_axis_y = ydat(1536)
shapes.append(dict(type="line", xref="x", yref="y", x0=axis_x, x1=axis_x, y0=Y_RANGE[0] - 0.02, y1=ydat(70),
                   line=dict(color="black", width=15), layer="above"))
shapes.append(dict(type="path", xref="x", yref="y",
                   path=f"M{xdat(218.5)},{ydat(77)} L{axis_x},{ydat(16)} L{xdat(281.5)},{ydat(77)} Z",
                   fillcolor="black", line=dict(width=0), layer="above"))
shapes.append(dict(type="line", xref="x", yref="y", x0=xdat(89), x1=xdat(1920), y0=x_axis_y, y1=x_axis_y,
                   line=dict(color="black", width=16), layer="above"))
shapes.append(dict(type="path", xref="x", yref="y",
                   path=f"M{xdat(1911)},{ydat(1505)} L{xdat(1974)},{x_axis_y} L{xdat(1911)},{ydat(1567)} Z",
                   fillcolor="black", line=dict(width=0), layer="above"))
for v in y_tick_vals:
    shapes.append(dict(type="line", xref="x", yref="y", x0=xdat(210), x1=xdat(273), y0=v, y1=v,
                       line=dict(color="black", width=8), layer="above"))
for p in x_tick_pos:
    shapes.append(dict(type="line", xref="x", yref="y", x0=p, x1=p, y0=ydat(1502), y1=ydat(1567),
                       line=dict(color="black", width=6), layer="above"))

# ---------------- texts of the schematic ----------------
note("<b>Variety of triggers</b>", 532, 171, 52)
note("<b>(mostly external)</b>", 532, 234, 52)
note("<b>\u2192 Dense Bulge Formation</b>", 1307, 200, 52)
note("<b>Dekel &amp; Burkert 2014</b>", 516, 774, 37, xanchor="left")
note("<b>Zolotov+ 2015</b>", 516, 822, 37, xanchor="left")
note("<i>t</i><sub>rep</sub> &lt; <i>t</i><sub>dep</sub>\u2003(<i>z</i> &gt; 3)", 736, 931, 46,
     family=SERIF, xanchor="left")
note("<i>M</i><sub>halo</sub> &lt; <i>M</i><sub>shock</sub>", 736, 994, 46, family=SERIF, xanchor="left")
note("<b>Quenching Attempt:</b>", 665, 1111, 52)
note("<b>SF mostly in the outskirts!</b>", 659, 1206, 52)
note("<b>Quenching:</b>", 1478, 1076, 52)
note("Inflow rate does not", 1264, 1172, 48, xanchor="left", color="#1a1a1a")
note("\u2018catch", 1264, 1230, 48, xanchor="left", color="#1a1a1a")
note("up\u2019", 1436, 1230, 48, xanchor="left", color="#1a1a1a")
note("in", 1554, 1230, 48, xanchor="left", color="#1a1a1a")
note("hot", 1619, 1230, 48, xanchor="left", color="#1a1a1a")
note("haloes", 1264, 1288, 48, xanchor="left", color="#1a1a1a")
note("\u2192 gas depletion", 1264, 1348, 48, xanchor="left", color="#1a1a1a")
note("<b>\u0394<sub>MS</sub> [dex]</b>", 54, 633, 76, angle=-90)
note("<b>log M [M<span style=\"font-size:54px\">\u2299</span>]</b>", 2161, 1610, 76)
note("Tacchella+ <i>MNRAS</i> (2016ab)", 2233, 1, 52, color="#6e6e6e", yanchor="top")

# inset texts
note("r<sub>Pearson</sub> =0.70", 2020, 155, 33, family=MPL, xanchor="left")
note("r<sub>Pearson</sub> =\u22120.51", 2020, 907, 33, family=MPL, xanchor="left")
note("Genzel+ 15", 2077, 963, 31, family=MPL, xanchor="left")
note("log<sub>10</sub> <i>f\u0303</i><sub>gs</sub>", 1876, 321, 38, family=MPL, angle=-90)
note("log<sub>10</sub> <i>t\u0303</i><sub>dep</sub>", 1876, 786, 38, family=MPL, angle=-90)
note("\u0394<sub>MS</sub> [dex]", 2309, 1087, 40, family=MPL)
note("log<sub>10</sub> <i>M</i><sub>\u2605</sub> [M<sub>\u2299</sub>]", 2453, 493, 33, family=MPL)
shapes.append(dict(type="line", xref="paper", yref="paper", x0=2004 / W, x1=2046 / W,
                   y0=1 - 963 / H, y1=1 - 963 / H, line=dict(color="red", width=7, dash="15px,8px"),
                   layer="above"))

# ---------------- traces ----------------
fig = go.Figure()
fig.add_trace(go.Scatter(x=curve_logM, y=curve_dms, mode="lines", xaxis="x", yaxis="y",
                         line=dict(color="black", width=7.5, shape="spline", smoothing=0.7),
                         hoverinfo="skip", showlegend=False))

for (xs, ys, ms, xa, ya, gr, gz, blo, bhi) in [
    (p1_dms, p1_fgs, p1_mass, "x2", "y2", fit1_green, fit1_genzel, fit1_band_lo, fit1_band_hi),
    (p2_dms, p2_tdep, p2_mass, "x3", "y3", fit2_green, fit2_genzel, fit2_band_lo, fit2_band_hi),
]:
    n = min(len(xs), len(ys), len(ms))
    fig.add_trace(go.Scatter(x=xs[:n], y=ys[:n], mode="markers", xaxis=xa, yaxis=ya,
                             marker=dict(size=14, color=ms[:n], coloraxis="coloraxis", opacity=0.82,
                                         line=dict(color="#1e1e1e", width=1.6)),
                             hoverinfo="skip", showlegend=False))
    fig.add_trace(go.Scatter(x=fit_x + fit_x[::-1], y=blo + bhi[::-1], fill="toself", mode="lines",
                             fillcolor="rgba(255,0,0,0.45)", line=dict(width=0), xaxis=xa, yaxis=ya,
                             hoverinfo="skip", showlegend=False))
    fig.add_trace(go.Scatter(x=fit_x, y=gr, mode="lines", xaxis=xa, yaxis=ya,
                             line=dict(color="rgba(40,160,40,0.85)", width=7),
                             hoverinfo="skip", showlegend=False))
    fig.add_trace(go.Scatter(x=fit_x, y=gz, mode="lines", xaxis=xa, yaxis=ya,
                             line=dict(color="red", width=7, dash="17px,10px"),
                             hoverinfo="skip", showlegend=False))

# ---------------- layout ----------------
inset_common = dict(showline=True, linewidth=5, linecolor="black", mirror="allticks", ticks="inside",
                    ticklen=22, tickwidth=3, tickcolor="black", showgrid=False, zeroline=False,
                    tickfont=dict(family=MPL, size=32, color="black"))
xdom = [1968.6 / W, 2654.5 / W]
inset_x = dict(range=[-1.2, 0.7], domain=xdom, dtick=0.5, tick0=0,
               minor=dict(dtick=0.1, ticks="inside", ticklen=13, tickwidth=2, tickcolor="black", showgrid=False),
               **inset_common)
inset_y = dict(range=[-1.75, 1.25], dtick=1, tick0=0,
               minor=dict(dtick=0.25, ticks="inside", ticklen=13, tickwidth=2, tickcolor="black", showgrid=False),
               **inset_common)

fig.update_layout(
    width=W, height=H, margin=dict(l=0, r=0, t=0, b=0),
    paper_bgcolor=BG, plot_bgcolor="rgba(0,0,0,0)", showlegend=False,
    xaxis=dict(range=X_RANGE, domain=[0, 1], anchor="free", position=1 - 1536 / H,
               showgrid=False, zeroline=False, showline=False, ticks="",
               tickvals=x_tick_pos, ticktext=x_tick_text, ticklabelstandoff=28,
               tickfont=dict(family=SANS, size=64, color="black", weight="bold")),
    yaxis=dict(range=Y_RANGE, domain=[0, 1], anchor="free", position=250 / W, side="left",
               showgrid=False, zeroline=False, showline=False, ticks="",
               tickvals=y_tick_vals, ticktext=y_tick_text, ticklabelstandoff=52,
               tickfont=dict(family=SANS, size=61, color="black", weight="bold")),
    xaxis2=dict(anchor="y2", showticklabels=False, **inset_x),
    yaxis2=dict(anchor="x2", domain=[1 - 543.3 / H, 1 - 98.3 / H], **inset_y),
    xaxis3=dict(anchor="y3", tickformat=".1f", **inset_x),
    yaxis3=dict(anchor="x3", domain=[1 - 1007.7 / H, 1 - 563 / H], **inset_y),
    coloraxis=dict(colorscale=GNUPLOT, cmin=mass_range[0], cmax=mass_range[1],
                   colorbar=dict(orientation="h", x=2454 / W, xanchor="center", y=1 - 410 / H, yanchor="top",
                                 len=308, lenmode="pixels", thickness=20, outlinewidth=4, outlinecolor="black",
                                 xpad=0, ypad=0, tickvals=mass_ticks, ticktext=["9.0", "9.5", "10.0"],
                                 ticks="inside", ticklen=20, tickwidth=2, tickcolor="black",
                                 tickfont=dict(family=MPL, size=29, color="black"))),
    shapes=shapes, annotations=annotations,
)

fig.write_html("out.html")
